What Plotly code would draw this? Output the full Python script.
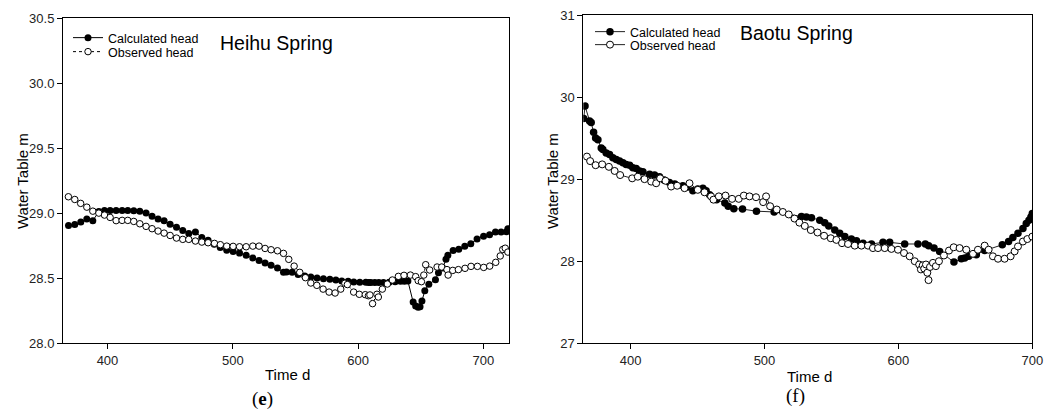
import plotly.graph_objects as go

W, H = 1062, 419

# ---------------- Heihu Spring (e) ----------------
heihu_calc_t = [368.9, 373.9, 378.7, 383.5, 388.3, 393.1, 397.6, 402.1, 406.9, 411.7, 416.2, 421.0,
                425.8, 430.8, 435.6, 440.4, 445.2, 450.0, 455.1, 460.1, 464.9, 470.2, 475.3, 480.3,
                485.2, 490.0, 495.2, 500.3, 505.4, 510.7, 516.0, 521.0, 525.8, 530.6, 535.7, 540.5,
                542.9, 547.4, 552.2, 557.5, 562.3, 567.3, 572.4, 577.5, 582.3, 587.0, 592.1, 596.6,
                601.4, 606.2, 608.5, 610.2, 613.4, 616.6, 620.3, 624.8, 629.6, 633.9, 637.0, 639.8,
                644.0, 646.0, 648.0, 649.5, 651.0, 653.3, 656.5, 661.8, 664.2, 667.6, 670.2, 671.7,
                675.9, 680.4, 685.2, 690.0, 695.0, 700.2, 705.0, 709.7, 714.2, 718.5, 719.6]
heihu_calc_h = [28.905, 28.913, 28.931, 28.954, 28.941, 29.013, 29.021, 29.021, 29.021, 29.021, 29.021, 29.018,
                29.015, 29.000, 28.975, 28.954, 28.941, 28.915, 28.892, 28.867, 28.844, 28.854, 28.813, 28.792,
                28.760, 28.735, 28.715, 28.705, 28.692, 28.675, 28.654, 28.636, 28.615, 28.598, 28.577, 28.544,
                28.546, 28.544, 28.528, 28.515, 28.508, 28.500, 28.495, 28.490, 28.485, 28.477, 28.475, 28.470,
                28.467, 28.467, 28.465, 28.465, 28.465, 28.465, 28.465, 28.467, 28.472, 28.475, 28.475, 28.477,
                28.315, 28.285, 28.275, 28.280, 28.323, 28.403, 28.453, 28.487, 28.541, 28.577, 28.644, 28.675,
                28.713, 28.721, 28.744, 28.765, 28.800, 28.821, 28.834, 28.854, 28.854, 28.857, 28.880]

heihu_obs_t = [368.8, 373.9, 378.6, 383.5, 388.3, 393.1, 397.6, 402.1, 406.9, 411.7, 416.2, 421.0,
               425.8, 430.8, 435.6, 440.4, 445.2, 450.0, 455.1, 460.1, 464.9, 470.2, 475.3, 480.3,
               485.4, 490.1, 495.2, 500.3, 505.4, 510.7, 516.0, 521.0, 525.8, 530.6, 535.7, 540.5,
               544.7, 549.0, 553.5, 558.0, 562.3, 567.1, 572.1, 576.9, 581.7, 586.2, 589.5, 591.5,
               596.5, 601.0, 605.8, 608.3, 609.5, 611.6, 615.1, 616.2, 619.4, 623.4, 627.4, 632.2,
               636.7, 641.8, 646.0, 648.0, 650.6, 652.5, 654.0, 657.2, 663.1, 666.8, 671.0, 671.9,
               675.6, 680.1, 685.4, 690.2, 695.3, 700.3, 705.1, 709.9, 713.5, 715.5, 717.5, 719.6]
heihu_obs_h = [29.126, 29.105, 29.075, 29.046, 29.015, 29.000, 28.985, 28.967, 28.942, 28.944, 28.944, 28.936,
               28.918, 28.898, 28.880, 28.862, 28.846, 28.828, 28.808, 28.798, 28.798, 28.785, 28.777, 28.772,
               28.767, 28.757, 28.746, 28.744, 28.741, 28.741, 28.746, 28.746, 28.728, 28.718, 28.710, 28.690,
               28.644, 28.592, 28.544, 28.503, 28.462, 28.444, 28.415, 28.392, 28.385, 28.415, 28.460, 28.450,
               28.392, 28.375, 28.372, 28.364, 28.370, 28.303, 28.375, 28.354, 28.415, 28.454, 28.485, 28.513,
               28.521, 28.523, 28.511, 28.480, 28.472, 28.523, 28.603, 28.562, 28.585, 28.585, 28.565, 28.523,
               28.559, 28.565, 28.575, 28.590, 28.590, 28.582, 28.592, 28.621, 28.670, 28.720, 28.730, 28.700]

# ---------------- Baotu Spring (f) ----------------
baotu_calc_t = [365.0, 366.0, 369.4, 370.6, 372.4, 373.9, 375.6, 378.1, 379.3, 381.8, 384.3, 386.8,
                389.3, 391.8, 394.3, 396.7, 399.3, 401.7, 404.2, 406.7, 409.2, 414.2, 417.9, 421.6,
                425.0, 429.0, 433.0, 439.0, 442.0, 446.5, 450.2, 454.0, 456.4, 459.0, 464.2, 470.4,
                472.9, 477.1, 483.6, 494.0, 507.2, 527.6, 531.3, 535.1, 541.3, 545.0, 548.0, 552.5,
                556.2, 560.0, 564.9, 568.7, 573.6, 579.9, 588.5, 593.5, 604.7, 614.6, 620.1, 622.6,
                626.6, 630.8, 641.5, 647.0, 649.5, 652.5, 658.2, 664.4, 677.6, 682.3, 685.5, 689.3,
                693.0, 695.5, 697.5, 699.0, 700.0]
baotu_calc_h = [29.74, 29.89, 29.71, 29.69, 29.57, 29.50, 29.48, 29.38, 29.36, 29.32, 29.30, 29.26,
                29.24, 29.22, 29.20, 29.18, 29.17, 29.14, 29.13, 29.10, 29.09, 29.06, 29.05, 29.03,
                28.99, 28.96, 28.94, 28.92, 28.90, 28.86, 28.88, 28.89, 28.86, 28.81, 28.75, 28.71,
                28.67, 28.64, 28.635, 28.61, 28.60, 28.545, 28.54, 28.53, 28.50, 28.47, 28.43, 28.38,
                28.34, 28.30, 28.27, 28.25, 28.22, 28.21, 28.23, 28.23, 28.21, 28.21, 28.21, 28.19,
                28.16, 28.12, 27.99, 28.03, 28.04, 28.06, 28.08, 28.13, 28.20, 28.24, 28.29, 28.34,
                28.40, 28.46, 28.50, 28.54, 28.58]

baotu_obs_t = [367.4, 369.8, 373.9, 378.8, 383.8, 388.1, 392.2, 401.2, 405.4, 410.4, 415.4, 419.1,
               422.1, 426.1, 430.3, 434.8, 440.3, 444.0, 450.2, 455.2, 460.1, 461.9, 465.9, 470.9,
               475.8, 480.8, 484.6, 488.8, 493.7, 499.0, 501.2, 504.2, 509.2, 513.7, 518.1, 522.4,
               526.1, 530.1, 534.6, 539.6, 544.5, 549.5, 553.7, 557.9, 562.4, 567.4, 572.4, 577.3,
               581.0, 584.8, 589.8, 594.8, 599.7, 604.2, 608.4, 612.2, 615.5, 616.8, 618.2, 619.3,
               620.6, 621.6, 622.5, 623.6, 625.8, 628.0, 630.3, 634.0, 637.8, 641.3, 645.7, 650.7,
               655.7, 659.4, 664.4, 667.4, 670.6, 674.4, 679.3, 683.8, 686.8, 689.3, 693.0, 696.3,
               700.0]
baotu_obs_h = [29.275, 29.22, 29.17, 29.18, 29.15, 29.10, 29.05, 29.01, 29.03, 29.00, 28.97, 28.95,
               29.01, 28.98, 28.91, 28.92, 28.89, 28.95, 28.87, 28.84, 28.79, 28.75, 28.79, 28.80,
               28.76, 28.76, 28.80, 28.79, 28.78, 28.72, 28.79, 28.67, 28.63, 28.60, 28.57, 28.52,
               28.47, 28.43, 28.38, 28.35, 28.31, 28.28, 28.26, 28.22, 28.21, 28.19, 28.19, 28.19,
               28.16, 28.16, 28.16, 28.15, 28.14, 28.10, 28.06, 28.00, 27.96, 27.90, 27.95, 27.91,
               27.96, 27.86, 27.77, 27.93, 27.98, 27.94, 28.00, 28.07, 28.13, 28.17, 28.16, 28.14,
               28.09, 28.14, 28.19, 28.14, 28.06, 28.03, 28.03, 28.06, 28.12, 28.18, 28.24, 28.27,
               28.30]

# labels
series_names = ["Calculated head", "Observed head"]
spring_titles = ["Heihu Spring", "Baotu Spring"]
panel_labels = ["(<b>e</b>)", "(f)"]
x_title = "Time d"
y_title = "Water Table m"
heihu_yticks = [28.0, 28.5, 29.0, 29.5, 30.0, 30.5]
baotu_yticks = [27, 28, 29, 30, 31]
x_ticks = [400, 500, 600, 700]

FONT = "Liberation Sans, Arial, sans-serif"


def px_x(p):
    return p / W


def px_y(p):
    return 1 - p / H


fig = go.Figure()

# left panel traces
fig.add_trace(go.Scatter(
    x=heihu_calc_t, y=heihu_calc_h, name=series_names[0], mode="lines+markers",
    line=dict(color="black", width=1),
    marker=dict(symbol="circle", size=7, color="black", line=dict(width=0)),
    xaxis="x", yaxis="y", legend="legend"))
fig.add_trace(go.Scatter(
    x=heihu_obs_t, y=heihu_obs_h, name=series_names[1], mode="lines+markers",
    line=dict(color="black", width=1, dash="dot"),
    marker=dict(symbol="circle", size=6.5, color="white", line=dict(color="black", width=1)),
    xaxis="x", yaxis="y", legend="legend2"))

# right panel traces
fig.add_trace(go.Scatter(
    x=baotu_calc_t, y=baotu_calc_h, name=series_names[0], mode="lines+markers",
    line=dict(color="#222", width=1),
    marker=dict(symbol="circle", size=7.5, color="black", line=dict(width=0)),
    xaxis="x2", yaxis="y2", legend="legend3"))
fig.add_trace(go.Scatter(
    x=baotu_obs_t, y=baotu_obs_h, name=series_names[1], mode="lines+markers",
    line=dict(color="#222", width=1),
    marker=dict(symbol="circle", size=7, color="white", line=dict(color="black", width=1)),
    xaxis="x2", yaxis="y2", legend="legend4"))

axis_common = dict(showline=True, linecolor="black", linewidth=1, mirror=True,
                   ticks="outside", ticklen=5, tickwidth=1, tickcolor="black",
                   showgrid=False, zeroline=False, automargin=False,
                   tickfont=dict(family=FONT, size=13, color="#222"))


def legend_at(x_px, y_px):
    return dict(x=px_x(x_px), y=px_y(y_px), xanchor="left", yanchor="middle",
                bgcolor="rgba(0,0,0,0)", borderwidth=0, itemwidth=30,
                font=dict(family=FONT, size=12.5, color="black"), tracegroupgap=0)


fig.update_layout(
    template="none",
    width=W, height=H, autosize=False,
    margin=dict(l=0, r=0, t=0, b=0, pad=0, autoexpand=False),
    paper_bgcolor="white", plot_bgcolor="white",
    font=dict(family=FONT, color="black"),
    xaxis=dict(domain=[px_x(63), px_x(509)], range=[364.5, 720.5], tickvals=x_ticks,
               anchor="y", **axis_common),
    yaxis=dict(domain=[px_y(343), px_y(18.3)], range=[28.0, 30.5], tickvals=heihu_yticks,
               tickformat=".1f", anchor="x", **axis_common),
    xaxis2=dict(domain=[px_x(583.3), px_x(1032.3)], range=[364.7, 700], tickvals=x_ticks,
                anchor="y2", **axis_common),
    yaxis2=dict(domain=[px_y(343.3), px_y(15)], range=[27, 31], tickvals=baotu_yticks,
                anchor="x2", **axis_common),
    legend=legend_at(68, 38),
    legend2=legend_at(68, 52),
    legend3=legend_at(590, 32),
    legend4=legend_at(590, 45),
    showlegend=True,
)

annotations = [
    dict(text=spring_titles[0], x=px_x(276), y=px_y(43), xanchor="center", yanchor="middle",
         font=dict(family=FONT, size=19.5, color="black")),
    dict(text=spring_titles[1], x=px_x(796.7), y=px_y(33.5), xanchor="center", yanchor="middle",
         font=dict(family=FONT, size=19.5, color="black")),
    dict(text=x_title, x=px_x(287), y=px_y(374), xanchor="center", yanchor="middle",
         font=dict(family=FONT, size=15, color="black")),
    dict(text=x_title, x=px_x(809), y=px_y(376), xanchor="center", yanchor="middle",
         font=dict(family=FONT, size=15, color="black")),
    dict(text=y_title, x=px_x(22), y=px_y(181), xanchor="center", yanchor="middle", textangle=-90,
         font=dict(family=FONT, size=15, color="black")),
    dict(text=y_title, x=px_x(552), y=px_y(181), xanchor="center", yanchor="middle", textangle=-90,
         font=dict(family=FONT, size=15, color="black")),
    dict(text=panel_labels[0], x=px_x(262), y=px_y(399), xanchor="center", yanchor="middle",
         font=dict(family="Liberation Serif, Times New Roman, serif", size=19, color="black")),
    dict(text=panel_labels[1], x=px_x(795.7), y=px_y(396), xanchor="center", yanchor="middle",
         font=dict(family="Liberation Serif, Times New Roman, serif", size=19, color="black")),
]
for a in annotations:
    a.update(xref="paper", yref="paper", showarrow=False)
fig.update_layout(annotations=annotations)

fig.write_html("out.html", config={"displayModeBar": False},
               post_script="document.body.style.margin='0';document.body.style.overflow='hidden';")
